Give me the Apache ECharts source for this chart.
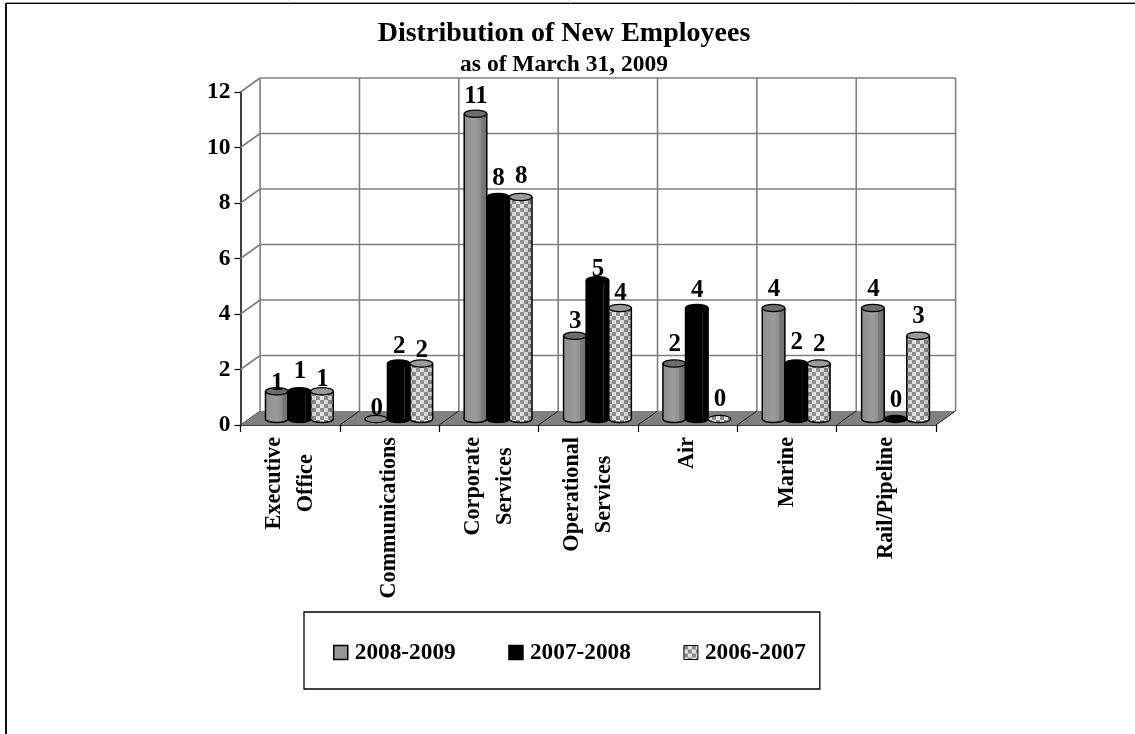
<!DOCTYPE html>
<html><head><meta charset="utf-8">
<style>html,body{margin:0;padding:0;background:#fff}#c{width:1135px;height:734px}</style>
<script src="https://cdn.jsdelivr.net/npm/echarts@6/dist/echarts.min.js"></script>
</head><body><div id="c"></div>
<script>
const categories = ['Executive\nOffice','Communications','Corporate\nServices','Operational\nServices','Air','Marine','Rail/Pipeline'];
const seriesNames = ['2008-2009','2007-2008','2006-2007'];
const values2008 = [1,0,11,3,2,4,4];
const values2007 = [1,2,8,5,4,2,0];
const values2006 = [1,2,8,4,0,2,3];
const yTicks = [0,2,4,6,8,10,12];

const FONT = '"Liberation Serif","Times New Roman",serif';
const DX = 19.6, DY = 14;
// how far each value label sits above its bar, as seen in the picture
const labelLift = [
  [9,12,19,16,20,20,20],
  [21,18,20,12,19,22,20],
  [13,14,22,16,21,20,21]
];

function checker(){
  const c=document.createElement('canvas');c.width=c.height=8;
  const g=c.getContext('2d');
  g.fillStyle='#e4e4e4';g.fillRect(0,0,8,8);
  g.fillStyle='#8a8a8a';g.fillRect(0,0,4,4);g.fillRect(4,4,4,4);
  return c;
}
const checkerFill={image:checker(),repeat:'repeat'};
function shade(stops){return {type:'linear',x:0,y:0,x2:1,y2:0,colorStops:stops};}
const looks=[
  {body:shade([{offset:0,color:'#8e8e8e'},{offset:.5,color:'#9c9c9c'},{offset:.72,color:'#8e8e8e'},{offset:.74,color:'#7c7c7c'},{offset:1,color:'#6e6e6e'}]),top:'#6c6c6c',flat:'#8a8a8a'},
  {body:shade([{offset:0,color:'#000'},{offset:.74,color:'#000'},{offset:.76,color:'#3c3c3c'},{offset:.79,color:'#000'},{offset:1,color:'#000'}]),top:'#000',flat:'#000'},
  {body:checkerFill,top:'#9a9a9a',flat:checkerFill}
];

function cylinders(si){
  return function(params,api){
    const i=params.dataIndex, v=api.value(1);
    const base=api.coord([i,0]), top=api.coord([i,v]);
    const w=22.6, rx=w/2, ry=3.6;
    const cx=base[0]+DX/2+(si-1)*w-0.6, yb=base[1]-DY/2+1, yt=top[1]-DY/2+1;
    const L=looks[si], kids=[];
    const ln={stroke:'#000',lineWidth:1.5};
    if(v===0){
      kids.push({type:'ellipse',shape:{cx,cy:yb,rx,ry},style:{fill:L.flat,stroke:'#000',lineWidth:1.2}});
    }else{
      kids.push({type:'ellipse',shape:{cx,cy:yb,rx,ry},style:{fill:L.body,stroke:'#000',lineWidth:1.5}});
      kids.push({type:'rect',shape:{x:cx-rx,y:yt,width:w,height:yb-yt},style:{fill:L.body}});
      if(si===2) kids.push({type:'rect',shape:{x:cx-rx,y:yt,width:w,height:yb-yt},
        style:{fill:shade([{offset:0,color:'rgba(0,0,0,.12)'},{offset:.4,color:'rgba(255,255,255,.08)'},{offset:1,color:'rgba(0,0,0,.18)'}])}});
      kids.push({type:'line',shape:{x1:cx-rx,y1:yt,x2:cx-rx,y2:yb},style:ln});
      kids.push({type:'line',shape:{x1:cx+rx,y1:yt,x2:cx+rx,y2:yb},style:ln});
      kids.push({type:'ellipse',shape:{cx,cy:yt,rx,ry},style:{fill:L.top,stroke:'#000',lineWidth:1.3}});
    }
    kids.push({type:'text',z2:50,style:{text:String(v),x:cx+0.5,y:yt-labelLift[si][i]+1.5,
      align:'center',verticalAlign:'middle',fill:'#000',font:'bold 25px '+FONT}});
    return {type:'group',children:kids};
  };
}

function walls(params,api){
  const kids=[], gray={stroke:'#7f7f7f',lineWidth:1.6};
  const band=api.size([1,0])[0];
  const x0=api.coord([0,0])[0]-band/2;
  const y0=api.coord([0,0])[1], n=categories.length;
  const x1=x0+band*n, yTop=api.coord([0,12])[1];
  kids.push({type:'polygon',shape:{points:[[x0,y0],[x0+DX,y0-DY],[x1+DX,y0-DY],[x1,y0]]},style:{fill:'#808080'}});
  yTicks.forEach(t=>{
    const y=api.coord([0,t])[1];
    if(t>0){
      kids.push({type:'line',shape:{x1:x0+DX,y1:y-DY,x2:x1+DX,y2:y-DY},style:gray});
      kids.push({type:'line',shape:{x1:x0,y1:y,x2:x0+DX,y2:y-DY},style:gray});
    }
  });
  for(let k=0;k<=n;k++){
    const x=x0+band*k;
    kids.push({type:'line',shape:{x1:x+DX,y1:yTop-DY,x2:x+DX,y2:y0-DY},style:gray});
    kids.push({type:'line',shape:{x1:x,y1:y0,x2:x+DX,y2:y0-DY},style:{stroke:k===0?'#555':'#222',lineWidth:1}});
  }
  return {type:'group',children:kids};
}

const seriesLooks=[
  {color:'#969696',borderColor:'#000',borderWidth:1.5},
  {color:'#000',borderColor:'#000',borderWidth:1.5},
  {color:checkerFill,borderColor:'#000',borderWidth:1}
];
const seriesValues=[values2008,values2007,values2006];
const series=[{type:'custom',name:'walls',silent:true,z:1,renderItem:walls,data:[[0,0]],clip:false}];
seriesNames.forEach((n,si)=>series.push({
  type:'custom',name:n,z:3,clip:false,renderItem:cylinders(si),
  itemStyle:seriesLooks[si],
  data:seriesValues[si].map((v,i)=>[i,v]),encode:{x:0,y:1}
}));

const chart=echarts.init(document.getElementById('c'),null,{renderer:'canvas'});
chart.setOption({
  animation:false,
  backgroundColor:'#fff',
  graphic:[
    {type:'line',shape:{x1:6,y1:2.5,x2:1135,y2:2.5},style:{stroke:'#999',lineWidth:1}},
    {type:'line',shape:{x1:6,y1:3.5,x2:1135,y2:3.5},style:{stroke:'#000',lineWidth:1}},
    {type:'line',shape:{x1:6,y1:3,x2:6,y2:734},style:{stroke:'#111',lineWidth:2}}
  ],
  title:[
    {text:'Distribution of New Employees',left:559,top:15,textAlign:'center',
     textStyle:{fontFamily:FONT,fontWeight:'bold',fontSize:28,color:'#000'}},
    {text:'as of March 31, 2009',left:559,top:48,textAlign:'center',
     textStyle:{fontFamily:FONT,fontWeight:'bold',fontSize:23.5,color:'#000'}}
  ],
  grid:{left:240.5,right:199,top:92,bottom:309,containLabel:false},
  xAxis:{type:'category',data:categories,boundaryGap:true,
    axisLine:{show:true,lineStyle:{color:'#000',width:1.5}},
    axisTick:{show:true,alignWithLabel:false,length:7,lineStyle:{color:'#000',width:1.2}},
    splitLine:{show:false},
    axisLabel:{interval:0,rotate:90,margin:12,color:'#000',hideOverlap:false,
      formatter:s=>s.split('\n').map(t=>'{c|'+t+'}').join('\n'),
      rich:{c:{align:'center',fontFamily:FONT,fontWeight:'bold',fontSize:22.2,lineHeight:32,color:'#000'}}}
  },
  yAxis:{type:'value',min:0,max:12,interval:2,
    axisLine:{show:true,lineStyle:{color:'#000',width:1.5}},
    axisTick:{show:true,length:6,lineStyle:{color:'#000',width:1.2}},
    splitLine:{show:false},
    axisLabel:{margin:10,padding:[6,0,0,0],color:'#000',fontFamily:FONT,fontWeight:'bold',fontSize:23.5}
  },
  legend:{left:304,top:612,orient:'horizontal',
    padding:[29,14,25,29],itemGap:52.5,itemWidth:14,itemHeight:14,
    borderColor:'#000',borderWidth:1.3,backgroundColor:'#fff',
    textStyle:{fontFamily:FONT,fontWeight:'bold',fontSize:23.3,color:'#000',padding:[0,0,0,2]},
    data:seriesNames.map((n,i)=>({name:n,icon:'rect',itemStyle:seriesLooks[i]})),
    selectedMode:false
  },
  series
});
</script></body></html>
